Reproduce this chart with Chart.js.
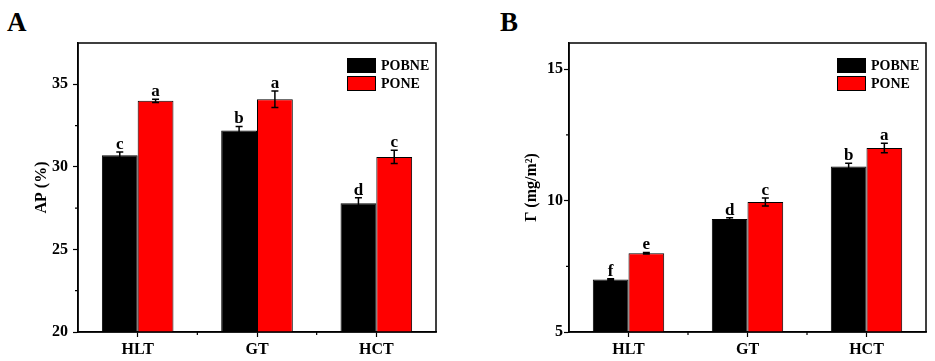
<!DOCTYPE html>
<html>
<head>
<meta charset="utf-8">
<script src="https://cdn.jsdelivr.net/npm/chart.js@4.4.1/dist/chart.umd.min.js"></script>
<style>
  html, body { margin: 0; padding: 0; background: #fff; }
  body { width: 935px; height: 361px; position: relative; overflow: hidden; }
  canvas { position: absolute; top: 0; }
  .panel { position: absolute; font-family: 'Liberation Serif', 'Times New Roman', serif; font-weight: bold; font-size: 27px; line-height: 1; color: #000; }
</style>
</head>
<body>
<div class="panel" style="left:7px;top:9px;">A</div>
<div class="panel" style="left:500px;top:9px;">B</div>
<canvas id="chartA" width="467" height="361" style="left:0px;"></canvas>
<canvas id="chartB" width="467" height="361" style="left:468px;"></canvas>
<script>
// ---- data ----
const categories = ['HLT', 'GT', 'HCT'];
const seriesNames = ['POBNE', 'PONE'];

const apPOBNE = [30.7, 32.2, 27.8];
const apPONE = [34.0, 34.1, 30.6];
const apPOBNEErr = [0.2, 0.25, 0.33];
const apPONEErr = [0.1, 0.5, 0.4];
const apPOBNELetters = ['c', 'b', 'd'];
const apPONELetters = ['a', 'a', 'c'];
const apTicks = [20, 25, 30, 35];

const gammaPOBNE = [7.0, 9.3, 11.3];
const gammaPONE = [8.0, 9.95, 12.0];
const gammaPOBNEErr = [0.03, 0.05, 0.12];
const gammaPONEErr = [0.03, 0.15, 0.18];
const gammaPOBNELetters = ['f', 'd', 'b'];
const gammaPONELetters = ['e', 'c', 'a'];
const gammaTicks = [5, 10, 15];

// ---- style ----
const FONT = "'Liberation Serif', 'Times New Roman', serif";
const BLACK = '#000000';
const RED = '#ff0000';

const decorPlugin = {
  id: 'decor',
  afterDatasetsDraw(chart, args, opts) {
    const ctx = chart.ctx;
    const ca = chart.chartArea;
    const y = chart.scales.y;
    const x = chart.scales.x;
    ctx.save();
    // error bars & letters
    chart.data.datasets.forEach((ds, di) => {
      const meta = chart.getDatasetMeta(di);
      meta.data.forEach((bar, i) => {
        const v = ds.data[i];
        const e = ds.errors[i];
        const yTop = y.getPixelForValue(v + e);
        const yBot = y.getPixelForValue(v - e);
        ctx.strokeStyle = '#000';
        ctx.lineWidth = 1.5;
        ctx.beginPath();
        ctx.moveTo(bar.x, yTop); ctx.lineTo(bar.x, yBot);
        ctx.moveTo(bar.x - 3.5, yTop); ctx.lineTo(bar.x + 3.5, yTop);
        ctx.moveTo(bar.x - 3.5, yBot); ctx.lineTo(bar.x + 3.5, yBot);
        ctx.stroke();
        ctx.fillStyle = '#000';
        ctx.font = 'bold 17px ' + FONT;
        ctx.textAlign = 'center';
        ctx.textBaseline = 'alphabetic';
        ctx.fillText(ds.letters[i], bar.x, yTop - 3);
      });
    });
    // frame
    ctx.strokeStyle = '#000';
    ctx.lineWidth = 1.5;
    ctx.strokeRect(ca.left, ca.top, ca.right - ca.left, ca.bottom - ca.top);
    // minor y ticks
    ctx.lineWidth = 1.2;
    ctx.beginPath();
    opts.minorY.forEach(v => {
      const py = y.getPixelForValue(v);
      ctx.moveTo(ca.left - 3, py); ctx.lineTo(ca.left, py);
    });
    // minor x ticks between categories
    for (let i = 0; i < chart.data.labels.length - 1; i++) {
      const px = (x.getPixelForValue(i) + x.getPixelForValue(i + 1)) / 2;
      ctx.moveTo(px, ca.bottom); ctx.lineTo(px, ca.bottom + 3);
    }
    ctx.stroke();
    // legend
    const bx = ca.right - 89;
    let by = ca.top + 15;
    chart.data.datasets.forEach((ds, di) => {
      const top = by + di * 18;
      ctx.fillStyle = ds.backgroundColor;
      ctx.fillRect(bx, top, 29, 15);
      ctx.strokeStyle = '#000';
      ctx.lineWidth = 1;
      ctx.strokeRect(bx + 0.5, top + 0.5, 28, 14);
      ctx.fillStyle = '#000';
      ctx.font = 'bold 14px ' + FONT;
      ctx.textAlign = 'left';
      ctx.textBaseline = 'middle';
      ctx.fillText(ds.label, bx + 34, top + 8);
    });
    ctx.restore();
  }
};

function makeChart(id, d1, d2, e1, e2, l1, l2, yMin, yMax, tickVals, minorY, yTitle, yWidth, rightPad, titlePad, tickPad) {
  return new Chart(document.getElementById(id), {
    type: 'bar',
    data: {
      labels: categories,
      datasets: [
        { label: seriesNames[0], data: d1, errors: e1, letters: l1, backgroundColor: BLACK, borderColor: '#000', borderWidth: 1, borderSkipped: false },
        { label: seriesNames[1], data: d2, errors: e2, letters: l2, backgroundColor: RED, borderColor: '#000', borderWidth: 1, borderSkipped: false }
      ]
    },
    options: {
      responsive: false,
      animation: false,
      events: [],
      layout: { padding: { left: 0, right: rightPad, top: 43, bottom: 0 } },
      datasets: { bar: { barPercentage: 1, categoryPercentage: 0.6 } },
      plugins: {
        legend: { display: false },
        tooltip: { enabled: false },
        decor: { minorY: minorY }
      },
      scales: {
        x: {
          offset: true,
          grid: { offset: false, drawOnChartArea: false, tickLength: 5, tickColor: '#000', tickWidth: 1.2 },
          border: { display: true, color: '#000', width: 1.5 },
          ticks: { color: '#000', padding: 3, font: { family: FONT, size: 16, weight: 'bold' } },
          afterFit(s) { s.height = 29; }
        },
        y: {
          min: yMin, max: yMax,
          afterBuildTicks(s) { s.ticks = tickVals.map(v => ({ value: v })); },
          grid: { drawOnChartArea: false, tickLength: 5, tickColor: '#000', tickWidth: 1.2 },
          border: { display: true, color: '#000', width: 1.5 },
          ticks: { color: '#000', padding: tickPad, font: { family: FONT, size: 16, weight: 'bold' } },
          title: { display: true, text: yTitle, color: '#000', padding: { top: titlePad, bottom: 0 }, font: { family: FONT, size: 16, weight: 'bold' } },
          afterFit(s) { s.width = yWidth; }
        }
      }
    },
    plugins: [decorPlugin]
  });
}

makeChart('chartA', apPOBNE, apPONE, apPOBNEErr, apPONEErr, apPOBNELetters, apPONELetters,
  20, 37.5, apTicks, [22.5, 27.5, 32.5], 'AP (%)', 78, 31, 32, 5);
makeChart('chartB', gammaPOBNE, gammaPONE, gammaPOBNEErr, gammaPONEErr, gammaPOBNELetters, gammaPONELetters,
  5, 16, gammaTicks, [7.5, 12.5], 'Γ (mg/m²)', 101, 9, 54, 1);
</script>
</body>
</html>
